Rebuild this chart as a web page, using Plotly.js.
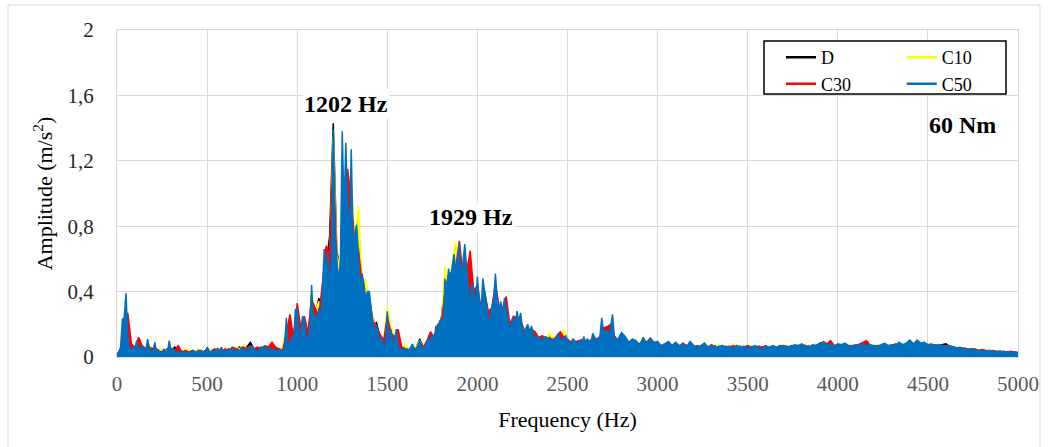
<!DOCTYPE html>
<html>
<head>
<meta charset="utf-8">
<script src="https://cdn.plot.ly/plotly-3.0.1.min.js"></script>
<style>
  html, body { margin: 0; padding: 0; background: #ffffff; }
  #chart { width: 1048px; height: 447px; }
</style>
</head>
<body>
<div id="chart"></div>
<script>
// ---------------- DATA ----------------
const seriesNames = ["D", "C10", "C30", "C50"];
const seriesColors = ["#000000", "#FFFF00", "#FF0000", "#0070C0"];
const seriesLegend = ["legend", "legend2", "legend", "legend2"];

const xTickVals = [0, 500, 1000, 1500, 2000, 2500, 3000, 3500, 4000, 4500, 5000];
const xTickText = ["0", "500", "1000", "1500", "2000", "2500", "3000", "3500", "4000", "4500", "5000"];
const yTickVals = [0, 0.4, 0.8, 1.2, 1.6, 2];
const yTickText = ["0", "0,4", "0,8", "1,2", "1,6", "2"];

// frequency bins (Hz): fine bins (10 Hz) up to 2800 Hz, then 20 Hz bins
function bins(start, stop, step) { const a = []; for (let f = start; f <= stop; f += step) a.push(f); return a; }
const freqFine = bins(0, 2800, 10).concat(bins(2820, 5000, 20));
const freqCoarse = bins(0, 5000, 20);

// C50 amplitude (m/s^2), on freqFine
const ampC50 = [
  0.01,0.03,0.06,0.23,0.24,0.39,0.12,0.05,0.04,0.06,
  0.05,0.10,0.06,0.04,0.07,0.05,0.04,0.11,0.05,0.03,
  0.04,0.09,0.03,0.04,0.02,0.03,0.05,0.02,0.03,0.10,
  0.04,0.05,0.04,0.02,0.03,0.02,0.04,0.02,0.03,0.02,
  0.03,0.02,0.04,0.03,0.02,0.04,0.03,0.04,0.03,0.02,
  0.06,0.04,0.03,0.04,0.02,0.05,0.03,0.04,0.06,0.03,
  0.04,0.03,0.05,0.04,0.06,0.03,0.04,0.05,0.03,0.06,
  0.04,0.05,0.03,0.06,0.04,0.07,0.05,0.04,0.03,0.05,
  0.06,0.04,0.07,0.05,0.04,0.06,0.03,0.05,0.04,0.03,
  0.05,0.04,0.03,0.06,0.24,0.05,0.08,0.12,0.10,0.29,
  0.29,0.10,0.16,0.25,0.23,0.12,0.10,0.18,0.44,0.20,
  0.27,0.20,0.30,0.22,0.40,0.66,0.50,0.64,0.42,0.60,
  1.39,0.75,0.59,0.45,0.60,1.38,0.90,1.31,0.90,0.75,
  1.27,0.70,0.75,0.81,0.62,0.40,0.51,0.45,0.35,0.40,
  0.40,0.28,0.20,0.15,0.20,0.14,0.10,0.12,0.06,0.08,
  0.28,0.10,0.17,0.09,0.10,0.17,0.07,0.05,0.04,0.06,
  0.03,0.05,0.04,0.06,0.08,0.04,0.05,0.07,0.10,0.06,
  0.05,0.07,0.09,0.12,0.08,0.14,0.10,0.19,0.16,0.22,
  0.23,0.20,0.48,0.40,0.54,0.47,0.55,0.63,0.53,0.60,
  0.70,0.45,0.58,0.69,0.55,0.40,0.30,0.45,0.42,0.30,
  0.49,0.35,0.27,0.48,0.40,0.34,0.25,0.18,0.31,0.35,
  0.51,0.35,0.29,0.34,0.25,0.36,0.30,0.23,0.18,0.20,
  0.24,0.20,0.28,0.22,0.27,0.17,0.15,0.18,0.20,0.15,
  0.19,0.14,0.10,0.13,0.12,0.11,0.10,0.12,0.125,0.10,
  0.12,0.09,0.11,0.10,0.12,0.145,0.11,0.09,0.12,0.13,
  0.10,0.08,0.09,0.11,0.10,0.08,0.09,0.10,0.08,0.125,
  0.09,0.11,0.10,0.08,0.145,0.12,0.10,0.11,0.13,0.24,
  0.15,0.16,0.165,0.12,0.20,0.26,0.125,0.10,0.11,0.135,
  0.15,
  0.125,0.09,0.11,0.10,0.07,0.12,0.08,0.115,0.09,0.095,
  0.065,0.08,0.095,0.07,0.09,0.07,0.08,0.06,0.095,0.07,
  0.06,0.07,0.085,0.06,0.07,0.06,0.065,0.07,0.06,0.065,
  0.055,0.07,0.06,0.065,0.055,0.06,0.07,0.06,0.05,0.065,
  0.06,0.07,0.06,0.065,0.07,0.06,0.065,0.075,0.07,0.08,
  0.065,0.06,0.075,0.07,0.085,0.09,0.07,0.08,0.065,0.08,
  0.075,0.085,0.065,0.07,0.075,0.07,0.08,0.07,0.075,0.07,
  0.065,0.075,0.083,0.07,0.075,0.07,0.09,0.075,0.085,0.104,
  0.08,0.104,0.085,0.09,0.075,0.08,0.07,0.075,0.07,0.065,
  0.07,0.06,0.055,0.06,0.05,0.045,0.05,0.045,0.04,0.04,
  0.035,0.04,0.035,0.03,0.035,0.03,0.03,0.03,0.025,0.03
];

// C30 amplitude, on freqCoarse
const ampC30 = [
  0.01,0.05,0.15,0.27,0.08,0.06,0.12,0.07,0.05,0.06,
  0.04,0.05,0.03,0.04,0.03,0.05,0.04,0.07,0.03,0.04,
  0.03,0.04,0.03,0.04,0.03,0.04,0.03,0.05,0.04,0.03,
  0.05,0.04,0.06,0.05,0.04,0.06,0.05,0.07,0.05,0.06,
  0.05,0.07,0.06,0.09,0.06,0.05,0.04,0.15,0.26,0.12,
  0.33,0.18,0.25,0.15,0.35,0.30,0.25,0.45,0.68,0.64,
  1.25,0.55,0.45,1.00,1.15,0.95,0.70,0.66,0.45,0.37,
  0.37,0.22,0.18,0.14,0.10,0.25,0.15,0.12,0.17,0.06,
  0.05,0.04,0.06,0.05,0.09,0.06,0.10,0.155,0.12,0.20,
  0.21,0.40,0.50,0.52,0.55,0.71,0.50,0.52,0.65,0.40,
  0.44,0.30,0.40,0.28,0.30,0.45,0.31,0.30,0.37,0.20,
  0.25,0.24,0.22,0.165,0.16,0.17,0.155,0.12,0.13,0.11,
  0.12,0.10,0.13,0.155,0.12,0.11,0.09,0.09,0.10,0.105,
  0.10,0.09,0.12,0.11,0.12,0.18,0.185,0.20,0.13,0.10,
  0.13,0.11,0.085,0.10,0.09,0.08,0.10,0.09,0.115,0.08,
  0.09,0.07,0.08,0.09,0.07,0.08,0.06,0.085,0.07,0.08,
  0.06,0.07,0.06,0.07,0.06,0.075,0.06,0.05,0.06,0.065,
  0.06,0.07,0.06,0.05,0.06,0.07,0.06,0.05,0.065,0.06,
  0.07,0.055,0.06,0.05,0.06,0.07,0.065,0.06,0.07,0.06,
  0.075,0.07,0.06,0.07,0.065,0.08,0.094,0.08,0.10,0.07,
  0.06,0.07,0.08,0.07,0.065,0.07,0.08,0.09,0.10,0.07,
  0.065,0.07,0.06,0.07,0.065,0.07,0.08,0.07,0.065,0.07,
  0.08,0.075,0.07,0.08,0.075,0.07,0.065,0.075,0.07,0.065,
  0.07,0.065,0.06,0.055,0.05,0.055,0.05,0.045,0.05,0.04,
  0.045,0.04,0.035,0.04,0.035,0.03,0.035,0.03,0.035,0.03,
  0.025
];

// C10 amplitude, on freqCoarse
const ampC10 = [
  0.01,0.04,0.18,0.20,0.06,0.05,0.09,0.05,0.04,0.07,
  0.03,0.04,0.05,0.03,0.04,0.06,0.03,0.04,0.03,0.05,
  0.04,0.03,0.04,0.05,0.03,0.04,0.05,0.03,0.04,0.05,
  0.04,0.05,0.04,0.06,0.05,0.07,0.05,0.06,0.04,0.05,
  0.06,0.05,0.07,0.05,0.04,0.05,0.06,0.20,0.22,0.10,
  0.30,0.15,0.22,0.12,0.40,0.28,0.34,0.30,0.60,0.58,
  1.35,0.62,0.55,0.95,1.06,1.10,0.72,0.92,0.48,0.47,
  0.35,0.25,0.16,0.12,0.11,0.30,0.19,0.13,0.10,0.06,
  0.07,0.05,0.07,0.06,0.10,0.05,0.08,0.13,0.12,0.18,
  0.22,0.55,0.45,0.58,0.705,0.60,0.55,0.50,0.45,0.38,
  0.40,0.30,0.42,0.26,0.28,0.40,0.28,0.26,0.30,0.18,
  0.22,0.20,0.25,0.15,0.18,0.14,0.13,0.11,0.12,0.10,
  0.145,0.12,0.11,0.12,0.165,0.10,0.09,0.08,0.09,0.10,
  0.09,0.10,0.11,0.10,0.13,0.16,0.15,0.17,0.12,0.11,
  0.12,0.10,0.09,0.095,0.08,0.085,0.09,0.10,0.09,0.085,
  0.08,0.07,0.075,0.08,0.07,0.085,0.065,0.07,0.065,0.075,
  0.06,0.065,0.07,0.06,0.065,0.07,0.065,0.075,0.06,0.065,
  0.07,0.065,0.075,0.06,0.065,0.06,0.07,0.06,0.065,0.06,
  0.06,0.065,0.055,0.06,0.065,0.06,0.07,0.065,0.06,0.07,
  0.065,0.07,0.065,0.075,0.07,0.075,0.08,0.075,0.085,0.07,
  0.075,0.07,0.08,0.075,0.07,0.065,0.07,0.075,0.07,0.065,
  0.07,0.075,0.07,0.075,0.07,0.065,0.07,0.075,0.07,0.08,
  0.075,0.07,0.075,0.07,0.08,0.075,0.085,0.07,0.065,0.07,
  0.065,0.06,0.055,0.06,0.05,0.055,0.05,0.045,0.04,0.045,
  0.04,0.035,0.04,0.03,0.035,0.03,0.03,0.035,0.03,0.025,
  0.03
];

// D amplitude, on freqCoarse
const ampD = [
  0.01,0.05,0.20,0.18,0.05,0.06,0.08,0.05,0.04,0.06,
  0.05,0.03,0.04,0.03,0.05,0.04,0.06,0.05,0.03,0.04,
  0.03,0.04,0.03,0.04,0.03,0.05,0.04,0.03,0.05,0.04,
  0.04,0.05,0.04,0.05,0.06,0.05,0.06,0.09,0.05,0.04,
  0.06,0.05,0.06,0.05,0.04,0.05,0.04,0.18,0.20,0.10,
  0.28,0.15,0.20,0.12,0.38,0.25,0.36,0.30,0.55,0.74,
  1.43,0.65,0.52,0.85,0.95,1.05,0.60,0.68,0.45,0.38,
  0.33,0.20,0.21,0.12,0.09,0.24,0.15,0.11,0.12,0.05,
  0.04,0.05,0.05,0.06,0.11,0.06,0.08,0.12,0.13,0.16,
  0.24,0.45,0.50,0.48,0.60,0.62,0.52,0.48,0.42,0.40,
  0.38,0.25,0.38,0.24,0.27,0.42,0.27,0.28,0.30,0.19,
  0.21,0.22,0.20,0.14,0.15,0.15,0.12,0.11,0.12,0.10,
  0.11,0.09,0.10,0.12,0.11,0.09,0.08,0.085,0.09,0.09,
  0.10,0.08,0.10,0.09,0.11,0.15,0.14,0.16,0.11,0.105,
  0.12,0.10,0.08,0.09,0.085,0.08,0.09,0.085,0.08,0.075,
  0.08,0.07,0.065,0.075,0.07,0.07,0.065,0.07,0.06,0.07,
  0.06,0.065,0.06,0.065,0.06,0.065,0.07,0.06,0.065,0.06,
  0.065,0.06,0.07,0.065,0.06,0.065,0.055,0.06,0.065,0.06,
  0.065,0.06,0.065,0.06,0.07,0.065,0.06,0.07,0.065,0.07,
  0.06,0.065,0.07,0.065,0.07,0.085,0.09,0.075,0.08,0.07,
  0.07,0.065,0.075,0.07,0.065,0.07,0.075,0.07,0.08,0.07,
  0.065,0.07,0.065,0.07,0.065,0.07,0.075,0.07,0.065,0.07,
  0.075,0.07,0.08,0.075,0.07,0.075,0.07,0.065,0.07,0.075,
  0.08,0.065,0.06,0.055,0.05,0.05,0.045,0.05,0.045,0.04,
  0.04,0.035,0.04,0.035,0.03,0.035,0.03,0.03,0.03,0.03,
  0.025
];

// ---------------- CHART ----------------
const seriesX = [freqCoarse, freqCoarse, freqCoarse, freqFine];
const seriesY = [ampD, ampC10, ampC30, ampC50];
seriesY.forEach((s, i) => { if (s.length !== seriesX[i].length) console.error(seriesNames[i] + ' length ' + s.length + ' vs ' + seriesX[i].length); });

const serif = "'Liberation Serif', 'Times New Roman', serif";
const traces = [];
seriesNames.forEach((name, i) => {
  traces.push({
    type: 'scatter', mode: 'lines', name: name,
    x: seriesX[i], y: seriesY[i],
    line: { color: seriesColors[i], width: 1.5 },
    fill: 'tozeroy', fillcolor: seriesColors[i],
    showlegend: false, hoverinfo: 'skip'
  });
});
// legend-only entries (plain line symbols), two columns
seriesNames.forEach((name, i) => {
  traces.push({
    type: 'scatter', mode: 'lines', name: name,
    x: [null], y: [null],
    line: { color: seriesColors[i], width: 2.5 },
    showlegend: true, legend: seriesLegend[i], hoverinfo: 'skip'
  });
});

const legendCommon = {
  orientation: 'v', yanchor: 'top', xanchor: 'left',
  bgcolor: 'rgba(0,0,0,0)', borderwidth: 0,
  font: { family: serif, size: 18, color: '#000000' },
  itemwidth: 30, tracegroupgap: 0
};

const layout = {
  width: 1048, height: 447,
  margin: { l: 117, r: 30, t: 30, b: 90, autoexpand: false },
  paper_bgcolor: '#ffffff', plot_bgcolor: '#ffffff',
  font: { family: serif, color: '#000000' },
  xaxis: {
    range: [0, 5000], tickmode: 'array', tickvals: xTickVals, ticktext: xTickText,
    showgrid: true, gridcolor: '#d9d9d9', gridwidth: 1,
    zeroline: false, showline: true, linecolor: '#d9d9d9', linewidth: 1, mirror: true,
    ticks: '', layer: 'below traces',
    tickfont: { family: serif, size: 21, color: '#595959' },
    ticklabelstandoff: 8,
    title: { text: 'Frequency (Hz)', font: { family: serif, size: 22, color: '#000000' }, standoff: 16 }
  },
  yaxis: {
    range: [0, 2], tickmode: 'array', tickvals: yTickVals, ticktext: yTickText,
    showgrid: true, gridcolor: '#d9d9d9', gridwidth: 1,
    zeroline: false, showline: true, linecolor: '#d9d9d9', linewidth: 1, mirror: true,
    ticks: '', layer: 'below traces',
    tickfont: { family: serif, size: 21, color: '#262626' },
    ticklabelstandoff: 18,
    title: { text: 'Amplitude (m/s<sup>2</sup>)', font: { family: serif, size: 22, color: '#000000' }, standoff: 8 }
  },
  legend: Object.assign({}, legendCommon, { x: 0.737, y: 0.972 }),
  legend2: Object.assign({}, legendCommon, { x: 0.871, y: 0.972 }),
  annotations: [
    { xref: 'x', yref: 'y', x: 1272, y: 1.547, text: '<b>1202 Hz</b>', showarrow: false,
      font: { family: serif, size: 24, color: '#000000' }, bgcolor: '#ffffff' },
    { xref: 'x', yref: 'y', x: 1967, y: 0.856, text: '<b>1929 Hz</b>', showarrow: false,
      font: { family: serif, size: 24, color: '#000000' }, bgcolor: '#ffffff' },
    { xref: 'x', yref: 'y', x: 4694, y: 1.419, text: '<b>60 Nm</b>', showarrow: false,
      font: { family: serif, size: 24, color: '#000000' } }
  ],
  shapes: [
    { type: 'rect', xref: 'paper', yref: 'paper', x0: -0.121, x1: 1.0244, y0: -0.3, y1: 1.0765,
      line: { color: '#d9d9d9', width: 1 }, fillcolor: 'rgba(0,0,0,0)', layer: 'below' },
    { type: 'rect', xref: 'paper', yref: 'paper', x0: 0.7181, x1: 0.9867, y0: 0.8043, y1: 0.9664,
      line: { color: '#000000', width: 1.5 }, fillcolor: '#ffffff', layer: 'above' }
  ]
};

Plotly.newPlot('chart', traces, layout, { staticPlot: true, displayModeBar: false });
</script>
</body>
</html>
